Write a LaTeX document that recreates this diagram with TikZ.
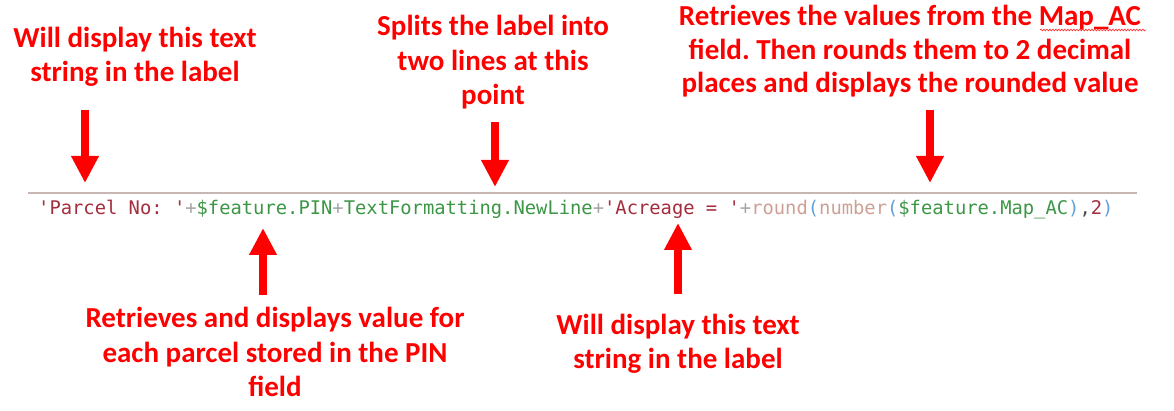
\documentclass[tikz,border=0pt]{standalone}
\usepackage{fontspec}
\setmainfont{Carlito}
\setmonofont{DejaVu Sans Mono}
\usetikzlibrary{arrows.meta,decorations.pathmorphing}
\frenchspacing
\definecolor{lblred}{RGB}{255,0,0}
\definecolor{cstr}{RGB}{163,45,60}
\definecolor{cgreen}{RGB}{60,150,70}
\definecolor{cplus}{RGB}{165,165,165}
\definecolor{cfunc}{RGB}{205,160,150}
\definecolor{cparen}{RGB}{100,160,215}
\definecolor{crule}{RGB}{200,182,178}
\tikzset{
  lbl/.style={text=lblred, align=center, inner sep=0pt, anchor=base,
    font=\fontsize{29}{34.5}\selectfont\bfseries\frenchspacing},
  bigarrow/.style={draw=lblred, line width=8pt,
    -{Triangle[width=26pt,length=27pt]}},
  code/.style={inner sep=0pt, anchor=base west,
    font=\fontsize{18.8}{22}\selectfont\ttfamily},
  squiggle/.style={draw=lblred!80, line width=0.7pt,
    decorate, decoration={snake, amplitude=0.8pt, segment length=3pt}}
}
\begin{document}
\begin{tikzpicture}[x=1pt,y=1pt]
\useasboundingbox (0,0) rectangle (1174,411);
% code line
\node[code] (code) at (38,196) {%
\textcolor{cstr}{'Parcel No: '}\textcolor{cplus}{+}\textcolor{cgreen}{\$feature.PIN}\textcolor{cplus}{+}\textcolor{cgreen}{TextFormatting.NewLine}\textcolor{cplus}{+}\textcolor{cstr}{'Acreage = '}\textcolor{cplus}{+}\textcolor{cfunc}{round}\textcolor{cparen}{(}\textcolor{cfunc}{number}\textcolor{cparen}{(}\textcolor{cgreen}{\$feature.Map\_AC}\textcolor{cparen}{)}\textcolor{black!70}{,}\textcolor{cstr}{2}\textcolor{cparen}{)}};
\coordinate (rl) at (28,218);
\coordinate (rr) at (1137,218);
\draw[crule, line width=1.5pt] (rl) -- (rr);
% labels (anchored at the baseline of their last line)
\node[lbl] (t1) at (135,329) {Will display this text\\string in the label};
\node[lbl] (t2) at (493,306) {Splits the label into\\two lines at this\\point};
\node[lbl, font=\fontsize{29}{33.5}\selectfont\bfseries\frenchspacing] (t3) at (910,318) {Retrieves the values from the Map\_AC\\field. Then rounds them to 2 decimal\\places and displays the rounded value};
\node[lbl] (t4) at (275,14) {Retrieves and displays value for\\each parcel stored in the PIN\\field};
\node[lbl] (t5) at (678,42) {Will display this text\\string in the label};
% spell-check underline under Map_AC
\coordinate (sq1) at (1040,381);
\coordinate (sq2) at (1146,381);
\draw[squiggle] (sq1) -- (sq2);
% arrows
\coordinate (a1s) at (85,301);
\coordinate (a1e) at (85,228);
\coordinate (a2s) at (495,289);
\coordinate (a2e) at (495,224);
\coordinate (a3s) at (930,301);
\coordinate (a3e) at (930,228);
\coordinate (a4s) at (263,116);
\coordinate (a4e) at (263,183);
\coordinate (a5s) at (678,117);
\coordinate (a5e) at (678,188);
\draw[bigarrow] (a1s) -- (a1e);
\draw[bigarrow] (a2s) -- (a2e);
\draw[bigarrow] (a3s) -- (a3e);
\draw[bigarrow] (a4s) -- (a4e);
\draw[bigarrow] (a5s) -- (a5e);
\end{tikzpicture}
\end{document}
